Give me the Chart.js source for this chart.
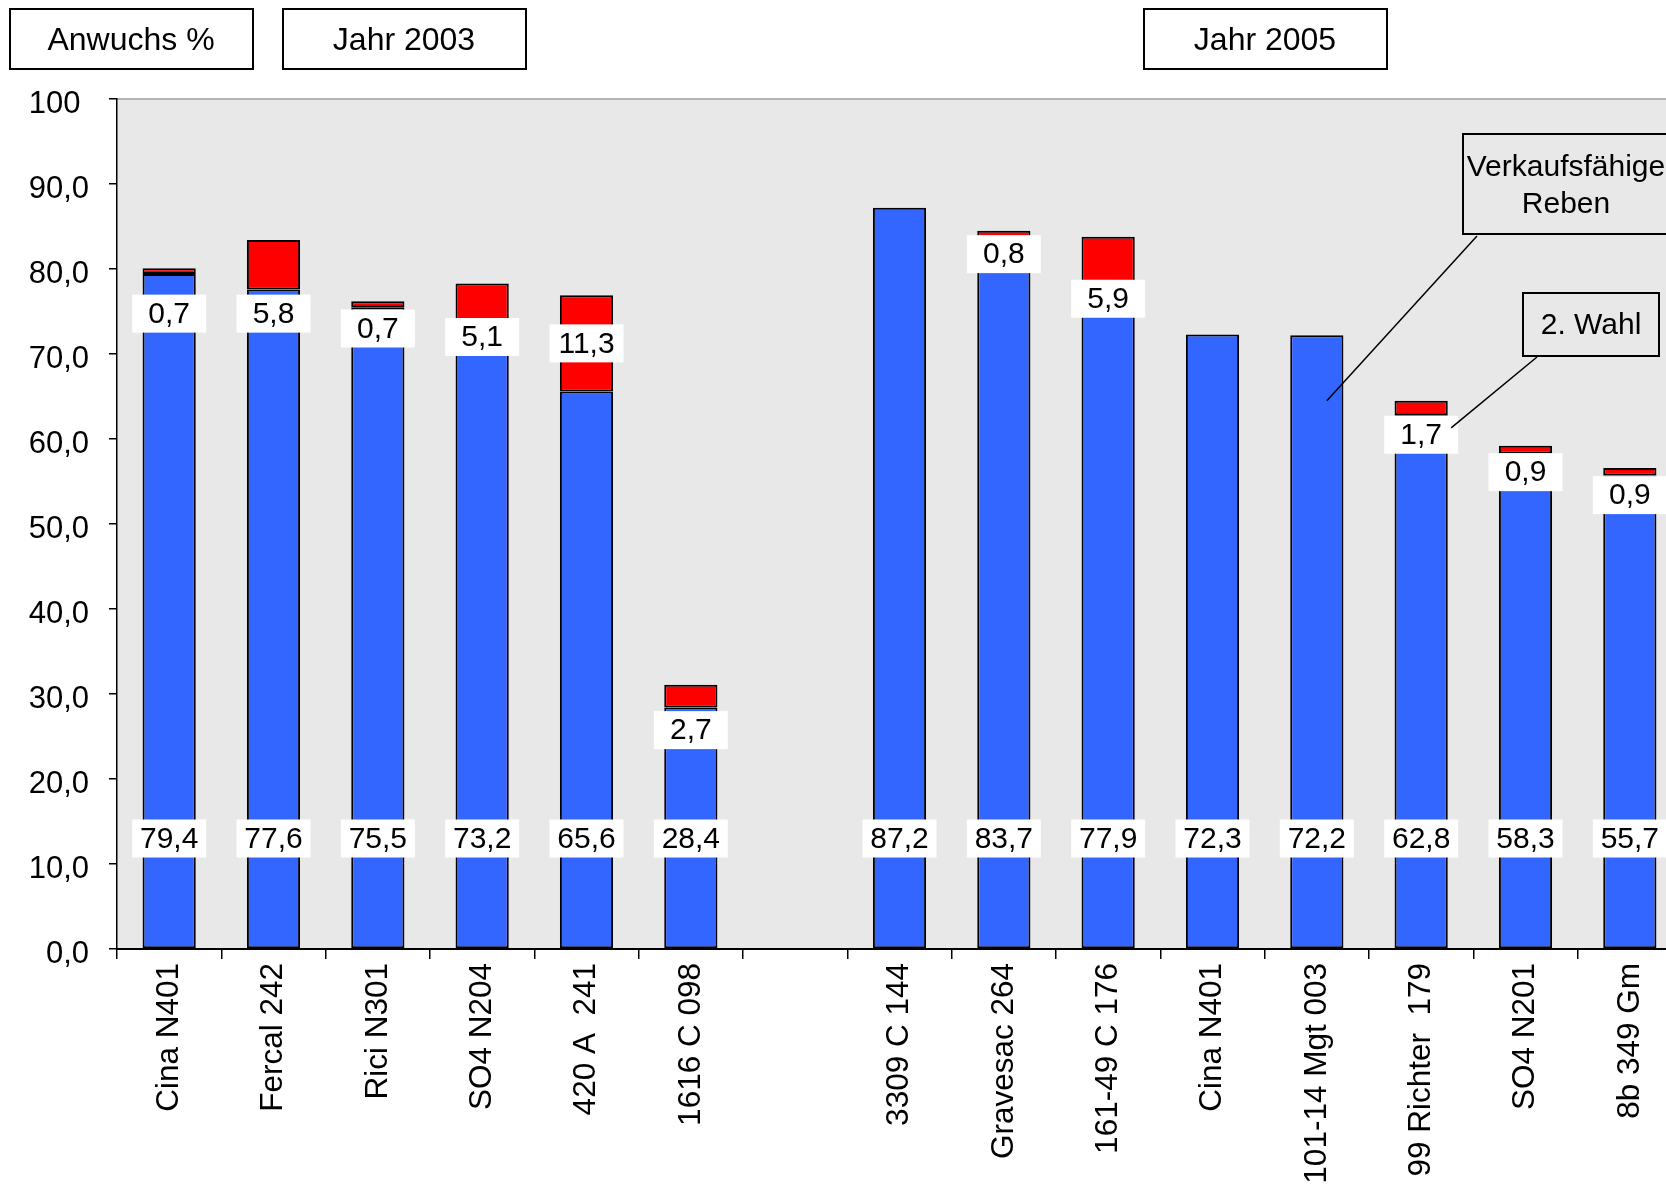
<!DOCTYPE html>
<html>
<head>
<meta charset="utf-8">
<script src="https://cdn.jsdelivr.net/npm/chart.js@4.4.1/dist/chart.umd.min.js"></script>
<style>
    html, body { margin: 0; padding: 0; background: #fff; overflow: hidden; }
    #wrap { width: 1684px; height: 1193px; }
</style>
</head>
<body>
<div id="wrap"><canvas id="anwuchsChart"></canvas></div>
<script>
// Rebsorten / Unterlagen, 2003 links, 2005 rechts (leerer Platz dazwischen)
const categories = ['Cina N401', 'Fercal 242', 'Rici N301', 'SO4 N204', '420 A  241', '1616 C 098', '',
    '3309 C 144', 'Gravesac 264', '161-49 C 176', 'Cina N401', '101-14 Mgt 003', '99 Richter  179', 'SO4 N201', '8b 349 Gm'];

// Verkaufsfähige Reben (%)
const saleable = [79.4, 77.6, 75.5, 73.2, 65.6, 28.4, null, 87.2, 83.7, 77.9, 72.3, 72.2, 62.8, 58.3, 55.7];

// 2. Wahl (%)
const secondChoice = [0.7, 5.8, 0.7, 5.1, 11.3, 2.7, null, null, 0.8, 5.9, null, null, 1.7, 0.9, 0.9];

const yTicks = [0, 10, 20, 30, 40, 50, 60, 70, 80, 90, 100];

const FONT = "'Liberation Sans', Arial, sans-serif";

function fmt(v) {
    return v.toFixed(1).replace('.', ',');
}

// Background of the plot area
const plotBackground = {
    id: 'plotBackground',
    beforeDraw(chart) {
        const { ctx, chartArea: a } = chart;
        ctx.save();
        ctx.fillStyle = '#e8e8e8';
        ctx.fillRect(a.left, a.top, a.right - a.left, a.bottom - a.top);
        ctx.strokeStyle = '#b4b4b4';
        ctx.lineWidth = 2;
        ctx.beginPath();
        ctx.moveTo(a.left, a.top);
        ctx.lineTo(a.right + 20, a.top);
        ctx.stroke();
        ctx.restore();
    }
};

function whiteLabel(ctx, text, cx, cy) {
    const w = 74, h = 38;
    ctx.fillStyle = '#ffffff';
    ctx.fillRect(cx - w / 2, cy - h / 2, w, h);
    ctx.fillStyle = '#000';
    ctx.fillText(text, cx, cy + 1);
}

// Value labels in white boxes
const valueLabels = {
    id: 'valueLabels',
    afterDatasetsDraw(chart, args, opts) {
        const { ctx } = chart;
        const x = chart.scales.x, y = chart.scales.y;
        ctx.save();
        ctx.font = '30px ' + FONT;
        ctx.textAlign = 'center';
        ctx.textBaseline = 'middle';
        saleable.forEach((v, i) => {
            if (v == null) return;
            whiteLabel(ctx, fmt(v), x.getPixelForValue(i), y.getPixelForValue(opts.baseLabelAt));
        });
        secondChoice.forEach((v, i) => {
            if (v == null) return;
            whiteLabel(ctx, fmt(v), x.getPixelForValue(i), y.getPixelForValue(opts.secondLabelAt[i]));
        });
        ctx.restore();
    }
};

function box(ctx, x, y, w, h) {
    ctx.fillStyle = '#ffffff';
    ctx.fillRect(x, y, w, h);
    ctx.strokeRect(x, y, w, h);
}

// Header boxes and callouts
const annotations = {
    id: 'annotations',
    afterDraw(chart) {
        const { ctx } = chart;
        const x = chart.scales.x, y = chart.scales.y;
        ctx.save();
        ctx.strokeStyle = '#000';
        ctx.lineWidth = 2;
        ctx.font = '32px ' + FONT;
        ctx.textAlign = 'center';
        ctx.textBaseline = 'middle';

        [['Anwuchs %', 10], ['Jahr 2003', 283], ['Jahr 2005', 1144]].forEach(([t, left]) => {
            box(ctx, left, 9, 243, 60);
            ctx.fillStyle = '#000';
            ctx.fillText(t, left + 121, 41);
        });

        // callout lines
        ctx.lineWidth = 1.5;
        ctx.beginPath();
        ctx.moveTo(1477, 236);
        ctx.lineTo(x.getPixelForValue(11) + 10, y.getPixelForValue(64.5));
        ctx.moveTo(1537, 357);
        ctx.lineTo(x.getPixelForValue(12) + 30, y.getPixelForValue(61.3));
        ctx.stroke();

        ctx.lineWidth = 2;
        ctx.fillStyle = '#e8e8e8';
        ctx.fillRect(1463, 134, 260, 100);
        ctx.strokeRect(1463, 134, 260, 100);
        ctx.fillStyle = '#000';
        ctx.font = '30px ' + FONT;
        ctx.fillText('Verkaufsfähige', 1566, 168);
        ctx.fillText('Reben', 1566, 205);

        ctx.fillStyle = '#e8e8e8';
        ctx.fillRect(1523, 293, 136, 63);
        ctx.strokeRect(1523, 293, 136, 63);
        ctx.fillStyle = '#000';
        ctx.fillText('2. Wahl', 1591, 326);
        ctx.restore();
    }
};

const ctx = document.getElementById('anwuchsChart').getContext('2d');

const anwuchsChart = new Chart(ctx, {
    type: 'bar',
    data: {
        labels: categories,
        datasets: [{
            label: 'Verkaufsfähige Reben',
            data: saleable,
            backgroundColor: '#3366ff',
            borderColor: '#000000',
            borderWidth: 2,
            borderSkipped: false
        }, {
            label: '2. Wahl',
            data: secondChoice,
            backgroundColor: '#ff0000',
            borderColor: '#000000',
            borderWidth: 2,
            borderSkipped: false
        }]
    },
    options: {
        responsive: true,
        maintainAspectRatio: false,
        animation: false,
        layout: { padding: { top: 99, left: 0, right: 2, bottom: 0 } },
        datasets: {
            bar: { categoryPercentage: 1, barPercentage: 0.51 }
        },
        scales: {
            x: {
                stacked: true,
                grid: {
                    drawOnChartArea: false,
                    drawTicks: true,
                    tickLength: 10,
                    color: '#000',
                    lineWidth: 1.5
                },
                border: { color: '#000', width: 2 },
                ticks: {
                    autoSkip: false,
                    maxRotation: 90,
                    minRotation: 90,
                    padding: 4,
                    color: '#000',
                    font: { family: FONT, size: 31.5 }
                },
                afterFit(scale) { scale.height = 244; }
            },
            y: {
                stacked: true,
                min: 0,
                max: 100,
                afterBuildTicks(scale) { scale.ticks = yTicks.map(v => ({ value: v })); },
                grid: {
                    drawOnChartArea: false,
                    drawTicks: true,
                    tickLength: 8,
                    color: '#000',
                    lineWidth: 1.5
                },
                border: { color: '#000', width: 1.5 },
                ticks: {
                    color: '#000',
                    padding: 20,
                    labelOffset: 5,
                    font: { family: FONT, size: 31 },
                    callback: function(value) {
                        return value === 100 ? '100 ' : fmt(value);
                    }
                },
                afterFit(scale) { scale.width = 117; }
            }
        },
        plugins: {
            legend: { display: false },
            tooltip: { enabled: false },
            valueLabels: {
                baseLabelAt: 13,
                secondLabelAt: [74.75, 74.75, 73, 72, 71.25, 25.75, null, null, 81.75, 76.5, null, null, 60.5, 56.1, 53.4]
            }
        }
    },
    plugins: [plotBackground, valueLabels, annotations]
});
</script>
</body>
</html>
